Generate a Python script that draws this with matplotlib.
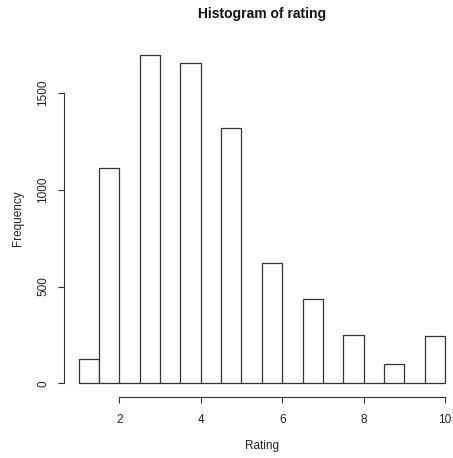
import numpy as np
import matplotlib.pyplot as plt

# histogram of rating, bins of width 0.5 from 1 to 10
breaks = [1.0, 1.5, 2.0, 2.5, 3.0, 3.5, 4.0, 4.5, 5.0, 5.5,
          6.0, 6.5, 7.0, 7.5, 8.0, 8.5, 9.0, 9.5, 10.0]
counts = [124, 1114, 0, 1697, 0, 1656, 0, 1318, 0, 623,
          0, 438, 0, 252, 0, 102, 0, 244]
x_ticks = [2, 4, 6, 8, 10]
y_ticks = [0, 500, 1000, 1500]

plt.rcParams["font.family"] = ["Liberation Sans", "DejaVu Sans"]
ink = "#333333"

W, H = 453, 458
fig = plt.figure(figsize=(W / 100, H / 100), dpi=100)
# plot region in pixels: left 64, right 459.7, top 41.1, bottom 396.5
ax = fig.add_axes([64 / W, 1 - 396.5 / H, (459.7 - 64) / W, (396.5 - 41.1) / H])

edges = np.array(breaks)
ax.bar(edges[:-1], counts, width=np.diff(edges), align="edge",
       color="white", edgecolor=ink, linewidth=0.9)

ax.set_xlim(0.64, 10.36)
ax.set_ylim(-68, 1768)
ax.set_xticks(x_ticks)
ax.set_yticks(y_ticks)
ax.set_yticklabels([str(v) for v in y_ticks], rotation=90, va="center")

for side in ("top", "right"):
    ax.spines[side].set_visible(False)
ax.spines["left"].set_bounds(y_ticks[0], y_ticks[-1])
ax.spines["bottom"].set_bounds(x_ticks[0], x_ticks[-1])
for side in ("left", "bottom"):
    ax.spines[side].set_color(ink)
    ax.spines[side].set_linewidth(0.8)
ax.tick_params(colors=ink, labelcolor="#222222", length=4.5, width=0.8,
               labelsize=8.5)
ax.tick_params(axis="x", pad=8)
ax.tick_params(axis="y", pad=6)

fig.text(261.9 / W, 1 - 14 / H, "Histogram of rating", ha="center", va="center",
         fontsize=10, fontweight="bold", color="#111111")
fig.text(261.9 / W, 1 - 446 / H, "Rating", ha="center", va="center",
         fontsize=8.5, color="#222222")
fig.text(18 / W, 1 - 218 / H, "Frequency", ha="center", va="center",
         rotation=90, fontsize=8.5, color="#222222")

fig.savefig("out.png", dpi=100)
